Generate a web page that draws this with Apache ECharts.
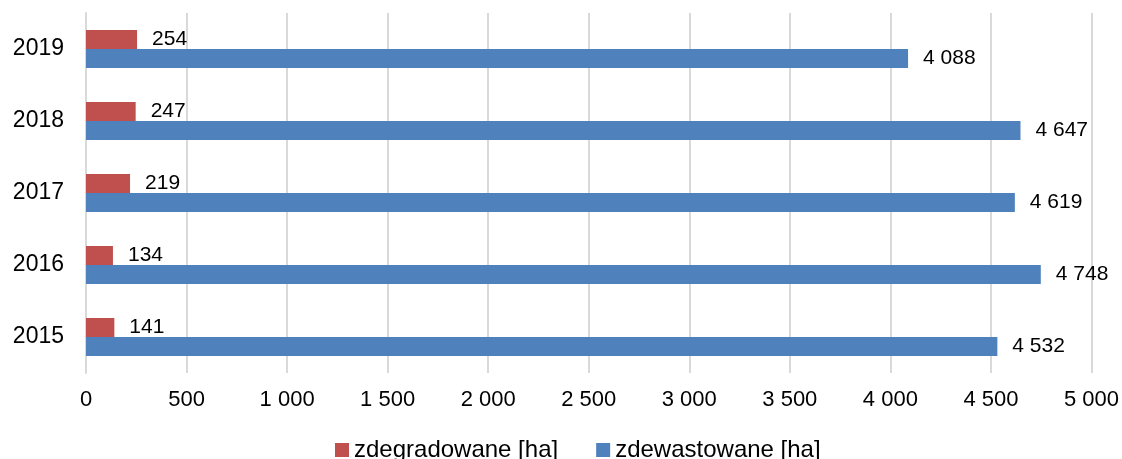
<!DOCTYPE html>
<html>
<head>
<meta charset="utf-8">
<script src="https://cdn.jsdelivr.net/npm/echarts@6/dist/echarts.min.js"></script>
<style>
html,body{margin:0;padding:0;background:#fff;}
#chart{width:1122px;height:459px;}
</style>
</head>
<body>
<div id="chart"></div>
<script>
const categories = ['2015', '2016', '2017', '2018', '2019'];
const zdegradowane = [141, 134, 219, 247, 254];
const zdewastowane = [4532, 4748, 4619, 4647, 4088];
const seriesNames = ['zdegradowane [ha]', 'zdewastowane [ha]'];
const xTicks = [0, 500, 1000, 1500, 2000, 2500, 3000, 3500, 4000, 4500, 5000];

function fmt(v) {
  return String(v).replace(/\B(?=(\d{3})+(?!\d))/g, ' ');
}

const FONT = 'Liberation Sans';
const chart = echarts.init(document.getElementById('chart'));
chart.setOption({
  animation: false,
  textStyle: { fontFamily: FONT },
  grid: { left: 86, right: 28, top: 13, bottom: 86, containLabel: false },
  legend: {
    data: seriesNames,
    left: 330,
    top: 433,
    itemWidth: 14,
    itemHeight: 14,
    itemGap: 38,
    icon: 'rect',
    textStyle: { fontFamily: FONT, fontSize: 24, color: '#000' }
  },
  xAxis: {
    type: 'value',
    min: xTicks[0],
    max: xTicks[xTicks.length - 1],
    interval: 500,
    axisLine: { show: false },
    axisTick: { show: false },
    splitLine: { show: true, lineStyle: { color: '#d9d9d9', width: 2 } },
    axisLabel: { fontFamily: FONT, fontSize: 22, color: '#000', margin: 16, formatter: fmt }
  },
  yAxis: {
    type: 'category',
    data: categories,
    axisLine: { show: true, lineStyle: { color: '#d9d9d9', width: 2 } },
    axisTick: { show: false },
    axisLabel: { fontFamily: FONT, fontSize: 23, color: '#000', margin: 22 }
  },
  series: [
    {
      name: seriesNames[0],
      type: 'bar',
      data: zdegradowane,
      barWidth: 19,
      barGap: '0%',
      itemStyle: { color: '#C0504D' },
      label: { show: true, position: 'right', distance: 15, fontFamily: FONT, fontSize: 21, color: '#000', formatter: p => fmt(p.value) }
    },
    {
      name: seriesNames[1],
      type: 'bar',
      data: zdewastowane,
      barWidth: 19,
      barGap: '0%',
      itemStyle: { color: '#4F81BD' },
      label: { show: true, position: 'right', distance: 15, fontFamily: FONT, fontSize: 21, color: '#000', formatter: p => fmt(p.value) }
    }
  ]
});
</script>
</body>
</html>
